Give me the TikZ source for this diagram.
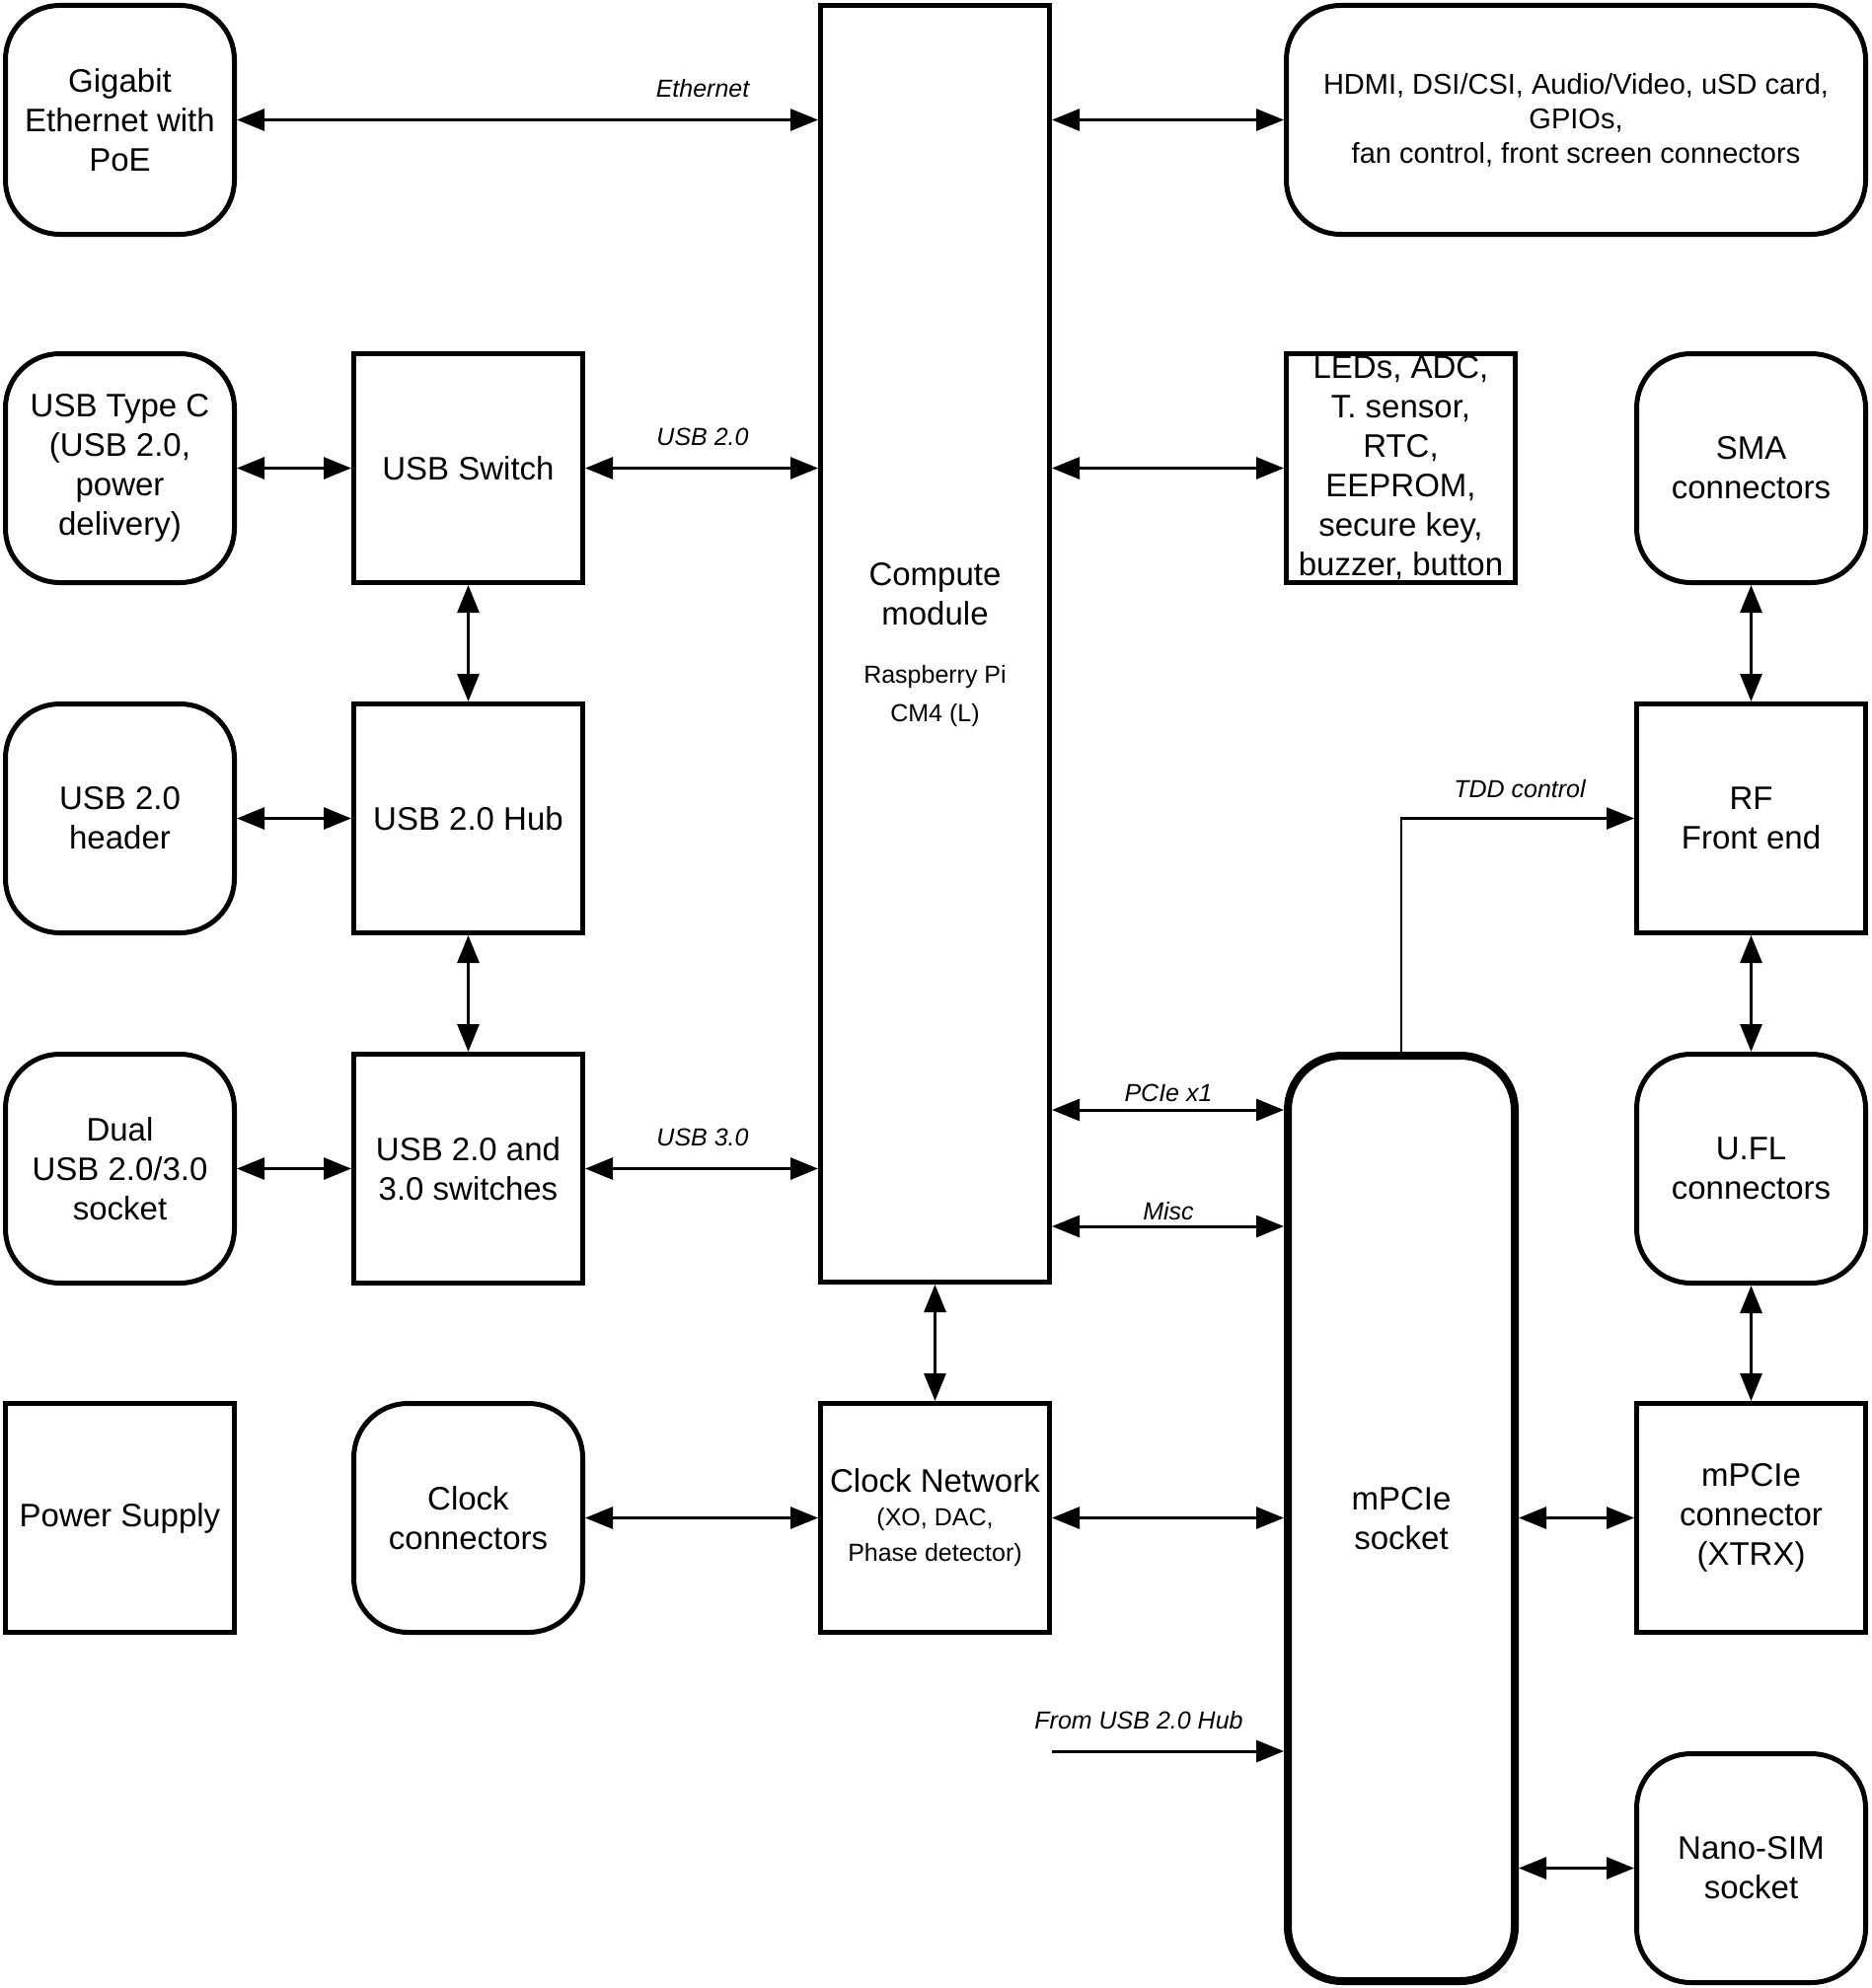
\documentclass[tikz,border=0pt]{standalone}
\usepackage{fontspec}
\setmainfont{Liberation Sans}
\usetikzlibrary{arrows.meta,calc}
\tikzset{
  blk/.style={draw, line width=5pt, inner sep=0pt, minimum width=232pt, minimum height=232pt, align=center, font=\fontsize{33}{40}\selectfont},
  rblk/.style={blk, rounded corners=55pt},
  tipA/.tip={Triangle[length=28pt,width=22pt]},
  biarrow/.style={line width=3pt, tipA-tipA},
  onearrow/.style={line width=3pt, -tipA},
  lbl/.style={font=\fontsize{25}{30}\selectfont\itshape, inner sep=0pt},
  txt/.style={inner sep=0pt, align=center},
}
\newcommand{\smallsz}{\fontsize{25}{36}\selectfont}
\begin{document}
\begin{tikzpicture}[x=1pt,y=-1pt]
\fill[white] (0,0) rectangle (1896,2015);
\useasboundingbox (0,0) rectangle (1896,2015);
% column 1
\node[rblk] (gig) at (121.5,121.5) {Gigabit\\Ethernet with\\PoE};
\node[rblk] (usbc) at (121.5,474.5) {USB Type C\\(USB 2.0,\\power\\delivery)};
\node[rblk] (hdr) at (121.5,829.5) {USB 2.0\\header};
\node[rblk] (dual) at (121.5,1184.5) {Dual\\USB 2.0/3.0\\socket};
\node[blk] (psu) at (121.5,1538.5) {Power Supply};
% column 2
\node[blk] (sw) at (474.5,474.5) {USB Switch};
\node[blk] (hub) at (474.5,829.5) {USB 2.0 Hub};
\node[blk] (sw3) at (474.5,1184.5) {USB 2.0 and\\3.0 switches};
\node[rblk] (clkc) at (474.5,1538.5) {Clock\\connectors};
% compute module
\node[blk, minimum height=1294pt] (cm) at (947.5,652.5) {};
\node[txt, font=\fontsize{33}{40}\selectfont] (cmt) at (947.5,602) {Compute\\module};
\node[txt, font=\fontsize{25}{39}\selectfont] (cms) at (947.5,706) {Raspberry Pi\\CM4 (L)};
\node[blk] (clk) at (947.5,1538.5) {Clock Network\\[-6pt]\smallsz (XO, DAC,\\[-4pt]\smallsz Phase detector)};
% column 4
\node[rblk, minimum width=587pt, font=\fontsize{29}{35}\selectfont] (hdmi) at (1597,121.5) {HDMI, DSI/CSI, Audio/Video, uSD card,\\GPIOs,\\fan control, front screen connectors};
\node[blk] (leds) at (1419.5,474.5) {LEDs, ADC,\\T. sensor,\\RTC,\\EEPROM,\\secure key,\\buzzer, button};
\node[rblk, line width=8pt, minimum width=230pt, minimum height=938pt] (sock) at (1420,1539) {mPCIe\\socket};
% column 5
\node[rblk] (sma) at (1774.5,474.5) {SMA\\connectors};
\node[blk] (rf) at (1774.5,829.5) {RF\\Front end};
\node[rblk] (ufl) at (1774.5,1184.5) {U.FL\\connectors};
\node[blk] (mcon) at (1774.5,1538.5) {mPCIe\\connector\\(XTRX)};
\node[rblk] (sim) at (1774.5,1893.5) {Nano-SIM\\socket};
% connectors
\coordinate (pcie) at (0,1125);
\coordinate (misc) at (0,1243);
\coordinate (hubin) at (1066,1775);
\draw[biarrow] (gig.east) -- (cm.west |- gig.east);
\draw[biarrow] (cm.east |- hdmi.west) -- (hdmi.west);
\draw[biarrow] (usbc.east) -- (sw.west);
\draw[biarrow] (sw.east) -- (cm.west |- sw.east);
\draw[biarrow] (cm.east |- leds.west) -- (leds.west);
\draw[biarrow] (sw.south) -- (hub.north);
\draw[biarrow] (hdr.east) -- (hub.west);
\draw[biarrow] (hub.south) -- (sw3.north);
\draw[biarrow] (dual.east) -- (sw3.west);
\draw[biarrow] (sw3.east) -- (cm.west |- sw3.east);
\draw[biarrow] (cm.east |- pcie) -- (sock.west |- pcie);
\draw[biarrow] (cm.east |- misc) -- (sock.west |- misc);
\draw[biarrow] (cm.south) -- (clk.north);
\draw[biarrow] (clkc.east) -- (clk.west);
\draw[biarrow] (clk.east) -- (sock.west |- clk.east);
\draw[biarrow] (sock.east |- mcon.west) -- (mcon.west);
\draw[biarrow] (sock.east |- sim.west) -- (sim.west);
\draw[onearrow] (hubin) -- (sock.west |- hubin);
\draw[onearrow, line width=2.5pt] (sock.north) |- (rf.west);
\draw[biarrow] (sma.south) -- (rf.north);
\draw[biarrow] (rf.south) -- (ufl.north);
\draw[biarrow] (ufl.south) -- (mcon.north);
% labels
\node[lbl] (lEth) at (712,90) {Ethernet};
\node[lbl] (lU2) at (712,443) {USB 2.0};
\node[lbl] (lU3) at (712,1153) {USB 3.0};
\node[lbl] (lPcie) at (1184,1108) {PCIe x1};
\node[lbl] (lMisc) at (1184,1228) {Misc};
\node[lbl] (lTdd) at (1540,800) {TDD control};
\node[lbl] (lHub) at (1154,1744) {From USB 2.0 Hub};
\end{tikzpicture}
\end{document}
